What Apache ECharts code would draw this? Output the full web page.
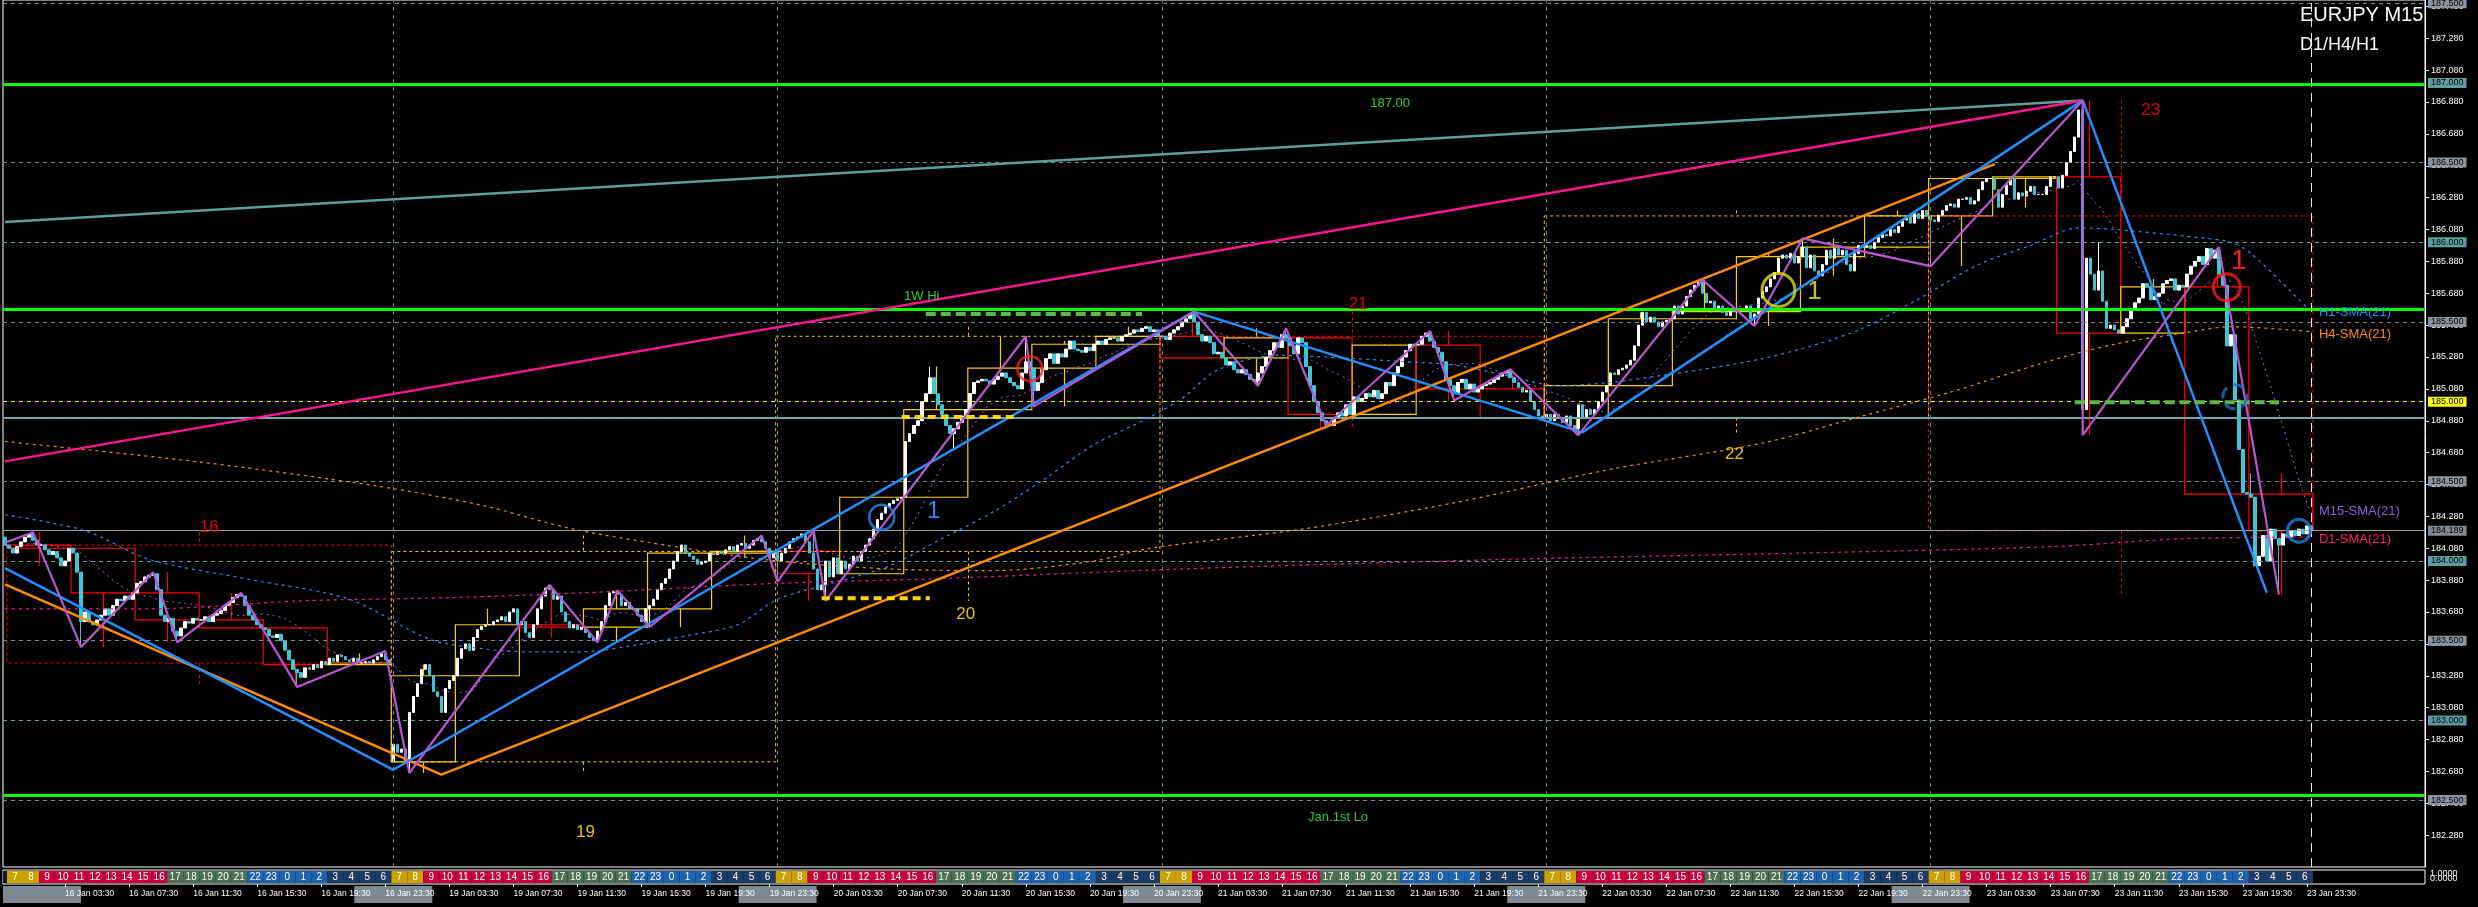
<!DOCTYPE html>
<html>
<head>
<meta charset="utf-8">
<title>EURJPY M15</title>
<script src="https://cdn.jsdelivr.net/npm/echarts@6.0.0/dist/echarts.min.js"></script>
<style>
html,body{margin:0;padding:0;background:#000;overflow:hidden;}
#chart{width:2478px;height:907px;}
</style>
</head>
<body>
<div id="chart"></div>
<script>
// ================= DATA =================
const tradingDays = ['16 Jan','19 Jan','20 Jan','21 Jan','22 Jan','23 Jan'];
const firstBarLabel = '15 Jan 2026 23:45';
const firstOpen = 184.15;
const firstClose = 184.10;

const close16Jan = [
 184.08,184.05,184.09,184.12, 184.15,184.17,184.13,184.10, 184.10,184.07,184.04,184.06, 184.02,183.97,184.00,184.08,
 184.05,183.93,183.62,183.68, 183.62,183.60,183.63,183.66, 183.70,183.66,183.72,183.76, 183.75,183.78,183.76,183.80,
 183.86,183.87,183.90,183.91, 183.92,183.82,183.66,183.62, 183.64,183.56,183.53,183.58, 183.62,183.61,183.64,183.63,
 183.63,183.65,183.62,183.66, 183.67,183.69,183.72,183.74, 183.77,183.79,183.78,183.72, 183.66,183.63,183.60,183.58,
 183.57,183.53,183.52,183.54, 183.50,183.44,183.38,183.32, 183.30,183.27,183.33,183.32, 183.35,183.33,183.37,183.35,
 183.39,183.37,183.41,183.40, 183.38,183.37,183.39,183.36, 183.36,183.37,183.36,183.38, 183.40,183.42,183.38,183.36
];
const close19Jan = [
 182.85,182.80,182.82,182.74, 183.05,183.15,183.23,183.32, 183.35,183.28,183.18,183.15, 183.05,183.20,183.25,183.28,
 183.39,183.45,183.48,183.44, 183.52,183.57,183.59,183.60, 183.60,183.62,183.63,183.65, 183.62,183.68,183.70,183.60,
 183.62,183.55,183.52,183.60, 183.70,183.78,183.83,183.82, 183.76,183.78,183.68,183.62, 183.58,183.60,183.57,183.585,
 183.55,183.52,183.50,183.56, 183.62,183.72,183.80,183.81, 183.79,183.72,183.74,183.70, 183.70,183.66,183.62,183.70,
 183.72,183.76,183.82,183.86, 183.89,183.95,184.00,184.06, 184.10,184.05,184.03,184.01, 183.98,183.99,184.00,184.05,
 184.04,184.06,184.05,184.07, 184.09,184.06,184.10,184.11, 184.08,184.10,184.13,184.14, 184.12,184.08,184.02,184.06
];
const close20Jan = [
 184.00,184.05,184.08,184.12, 184.14,184.15,184.17,184.12, 184.05,183.95,183.82,183.85, 184.00,183.90,184.02,183.92,
 184.00,183.95,183.98,184.03, 184.00,184.06,184.10,184.14, 184.20,184.26,184.30,184.34, 184.36,184.38,184.39,184.40,
 184.75,184.80,184.85,184.88, 185.00,185.05,185.15,185.05, 184.98,184.92,184.85,184.80, 184.83,184.87,184.91,184.95,
 185.05,185.12,185.13,185.14, 185.13,185.11,185.14,185.16, 185.18,185.15,185.12,185.10, 185.08,185.18,185.25,185.21,
 185.07,185.12,185.20,185.27, 185.30,185.24,185.30,185.28, 185.33,185.38,185.33,185.32, 185.31,185.34,185.32,185.36,
 185.38,185.36,185.39,185.40, 185.40,185.38,185.41,185.42, 185.43,185.45,185.44,185.46, 185.47,185.44,185.45,185.41
];
const close21Jan = [
 185.41,185.39,185.43,185.45, 185.47,185.50,185.52,185.55, 185.50,185.42,185.38,185.41, 185.37,185.30,185.31,185.275,
 185.23,185.25,185.20,185.18, 185.20,185.17,185.14,185.13, 185.18,185.22,185.28,185.32, 185.37,185.34,185.42,185.40,
 185.35,185.30,185.40,185.37, 185.22,185.10,185.00,184.93, 184.88,184.86,184.85,184.90, 184.93,184.91,184.98,184.92,
 185.03,185.00,185.02,185.05, 185.03,185.07,185.02,185.05, 185.12,185.10,185.18,185.22, 185.28,185.32,185.36,185.355,
 185.36,185.41,185.43,185.38, 185.34,185.31,185.25,185.14, 185.10,185.05,185.12,185.14, 185.08,185.11,185.06,185.08,
 185.10,185.11,185.12,185.14, 185.16,185.18,185.19,185.15, 185.12,185.09,185.06,185.07, 185.00,184.95,184.91,184.90
];
const close22Jan = [
 184.92,184.88,184.92,184.90, 184.87,184.91,184.85,184.83, 184.98,184.90,184.95,184.92, 184.95,185.00,185.06,185.10,
 185.18,185.17,185.20,185.21, 185.23,185.26,185.35,185.48, 185.56,185.50,185.53,185.50, 185.47,185.50,185.51,185.52,
 185.60,185.55,185.60,185.66, 185.70,185.73,185.75,185.68, 185.62,185.63,185.58,185.60, 185.56,185.54,185.57,185.565,
 185.57,185.58,185.60,185.52, 185.55,185.65,185.69,185.72, 185.77,185.81,185.90,185.92, 185.90,185.93,185.87,185.91,
 185.97,185.84,185.92,185.82, 185.79,185.86,185.95,185.90, 185.96,185.92,185.95,185.86, 185.82,185.93,185.98,185.97,
 185.98,185.96,186.00,186.03, 186.05,186.04,186.08,186.06, 186.10,186.14,186.16,186.12, 186.18,186.15,186.20,186.165
];
const close23Jan = [
 186.14,186.13,186.17,186.20, 186.23,186.24,186.22,186.27, 186.27,186.28,186.24,186.26, 186.33,186.38,186.40,186.40,
 186.33,186.22,186.30,186.36, 186.40,186.27,186.31,186.29, 186.32,186.35,186.30,186.30, 186.30,186.35,186.41,186.41,
 186.34,186.42,186.50,186.57, 186.66,186.83,184.95,185.90, 185.80,185.70,185.82,185.63, 185.46,185.48,185.45,185.43,
 185.47,185.52,185.58,185.62, 185.65,185.74,185.72,185.64, 185.66,185.68,185.74,185.76, 185.77,185.70,185.73,185.72,
 185.80,185.85,185.88,185.91, 185.86,185.96,185.90,185.95, 185.80,185.73,185.35,185.42, 185.01,184.70,184.43,184.42,
 184.40,183.97,184.03,184.16, 184.00,184.20,184.14,184.10, 184.17,184.15,184.19,184.16, 184.20,184.17,184.22,184.19
];
// bar index (0 = 15 Jan 23:45) -> price
const openOverride = [[97, 182.74]];
const wickHigh = [[7,184.18],[37,183.93],[59,183.80],[136,183.85],[153,183.815],[189,184.16],[202,184.19],[231,185.22],
  [255,185.41],[297,185.565],[320,185.46],[356,185.443],[376,185.203],[424,185.765],[449,186.024],[519,186.89],
  [523,186.00],[553,185.97],[561,184.55]];
const wickLow = [[19,183.46],[43,183.49],[73,183.21],[101,182.67],[148,183.49],[161,183.585],[193,183.87],[205,183.75],
  [237,184.70],[257,184.97],[313,185.10],[330,184.83],[362,185.007],[393,184.79],[437,185.475],[481,185.85],
  [519,184.79],[568,183.79]];
const futureSlots = 28;

// trend lines  [bar, price]
const tealLine   = [[0,186.127],[519,186.89]];
const pinkLine   = [[0,184.625],[519,186.89]];
const orangeLine = [[0,183.853],[109,182.66],[497,186.49]];
const blueLine   = [[0,183.955],[97,182.69],[297,185.565],[394,184.807],[519,186.89],[565,183.80]];
const zigzag = [[0,184.115],[7,184.18],[19,183.46],[37,183.93],[43,183.49],[59,183.80],[73,183.21],[95,183.435],
  [101,182.67],[136,183.85],[148,183.49],[153,183.815],[161,183.585],[189,184.16],[193,183.87],[202,184.19],
  [205,183.75],[255,185.41],[257,184.97],[297,185.565],[313,185.10],[320,185.46],[330,184.85],[356,185.443],
  [362,185.007],[376,185.203],[393,184.79],[424,185.765],[437,185.475],[449,186.024],[481,185.85],[519,186.89],
  [519,184.79],[553,185.97],[568,183.79]];

// moving averages from higher time frames
const h1SmaBar = [0,20,36,61,86,106,119,131,144,157,170,183,193,208,221,234,247,260,272,285,294,303,318,337,350,362,375,388,401,414,426,439,452,464,477,493,506,518,527,544,556,561,575];
const h1SmaVal = [184.29,184.19,184.01,183.885,183.76,183.51,183.45,183.43,183.43,183.47,183.53,183.60,183.76,183.87,183.97,184.14,184.31,184.52,184.73,184.89,185.02,185.20,185.29,185.27,185.25,185.23,185.165,185.10,185.12,185.165,185.21,185.27,185.355,185.46,185.63,185.86,185.98,186.09,186.08,186.04,186.00,185.93,185.59];
const h4SmaBar = [0,49,93,119,142,170,193,221,247,272,286,324,362,401,439,464,486,510,527,544,556,576];
const h4SmaVal = [184.75,184.62,184.47,184.35,184.20,184.08,184.00,183.95,183.94,184.00,184.08,184.20,184.365,184.575,184.74,184.91,185.06,185.25,185.36,185.43,185.47,185.44];
const d1SmaBar = [0,36,74,111,144,193,234,294,374,449,511,544,576];
const d1SmaVal = [183.70,183.70,183.75,183.77,183.80,183.86,183.89,183.95,184.01,184.05,184.09,184.14,184.15];

// horizontal levels
const roundLevels = [187.5,187.0,186.5,186.0,185.5,185.0,184.5,184.0,183.5,183.0,182.5];
const greenLevels = [186.99,185.58,182.532];
const tealLevel = 184.90;
const currentPrice = 184.189;
// short marker segments [fromBar, toBar, price]
const yellowSegs = [[204,231,183.767],[224,253,184.904]];
const greenSegs  = [[230,284,185.55],[517,568,184.996]];

// circles
const ringBar   = [219, 256, 443, 555, 557, 573];
const ringPrice = [184.275, 185.207, 185.70, 185.717, 185.03, 184.19];

// text notes
const noteText  = ['1W Hi','187.00','Jan.1st Lo','16','19','20','21','22','23','1','1','1','H1-SMA(21)','H4-SMA(21)','M15-SMA(21)','D1-SMA(21)'];
const noteBar   = [229, 346, 333, 51, 145, 240, 338, 432, 536, 232, 452, 558, 578, 578, 578, 578];
const notePrice = [185.66, 186.87, 182.39, 184.21, 182.30, 183.665, 185.61, 184.67, 186.83, 184.31, 185.69, 185.88, 185.56, 185.42, 184.31, 184.136];

const labelTimes = ['03:30','07:30','11:30','15:30','19:30','23:30'];

// ================= BUILD =================
const FONT = 'Liberation Sans, Arial, sans-serif';
const close = [firstClose].concat(close16Jan, close19Jan, close20Jan, close21Jan, close22Jan, close23Jan);
const nBars = close.length;
const pad = n => (n < 10 ? '0' : '') + n;
const cats = [firstBarLabel];
tradingDays.forEach(d => { for (let h = 0; h < 24; h++) for (let m = 0; m < 60; m += 15) cats.push(d + ' ' + pad(h) + ':' + pad(m)); });
for (let f = 0; f < futureSlots; f++) cats.push('~' + f);

const ovOpen = {}; openOverride.forEach(a => ovOpen[a[0]] = a[1]);
const wh = {}; wickHigh.forEach(a => wh[a[0]] = a[1]);
const wl = {}; wickLow.forEach(a => wl[a[0]] = a[1]);
const ohlc = close.map((c, k) => {
  let o = k === 0 ? firstOpen : close[k - 1];
  if (ovOpen[k] !== undefined) o = ovOpen[k];
  let hi = Math.max(o, c), lo = Math.min(o, c);
  if (wh[k] !== undefined) hi = Math.max(hi, wh[k]);
  if (wl[k] !== undefined) lo = Math.min(lo, wl[k]);
  return [o, c, lo, hi];
});
function aggregate(s, e) {
  let hi = -Infinity, lo = Infinity;
  for (let k = s; k <= e; k++) { hi = Math.max(hi, ohlc[k][3]); lo = Math.min(lo, ohlc[k][2]); }
  return [s, e, ohlc[s][0], ohlc[e][1], hi, lo];
}
const h4Boxes = [];
for (let s = 1; s < nBars; s += 16) h4Boxes.push(aggregate(s, Math.min(s + 15, nBars - 1)));
const dayStart = tradingDays.map((d, i) => 1 + i * 96);
const d1Boxes = dayStart.map(s => aggregate(s, s + 95));

// M15 SMA(21) from the closes
const sma15 = close.map((c, k) => { const s = Math.max(0, k - 20); let t = 0; for (let j = s; j <= k; j++) t += close[j]; return [k, +(t / (k - s + 1)).toFixed(4)]; });

// hour band cells (JST = server + 7)
const hourCells = [[0, 0, -1]];
tradingDays.forEach((d, di) => { for (let h = 0; h < 24; h++) { const s = 1 + di * 96 + h * 4; hourCells.push([s, s + 3, (h + 7) % 24]); } });
function hourColor(h) {
  if (h < 0) return '#0e1a2c';
  if (h === 7 || h === 8) return '#c9a200';
  if (h >= 9 && h <= 16) return '#c8003c';
  if (h >= 17 && h <= 21) return '#4b7150';
  if (h >= 22 || h <= 2) return '#1f63b0';
  return '#1e3b66';
}

const BULL = '#ffcc00', BEAR = '#ff0000';
function boxRenderer(dashed, lw) {
  return function (params, api) {
    const s = api.value(0), e = api.value(1), o = api.value(2), c = api.value(3), hi = api.value(4), lo = api.value(5);
    const bw = api.size([1, 0])[0];
    const x0 = api.coord([s, o])[0] - bw / 2, x1 = api.coord([e, o])[0] + bw / 2;
    const yo = api.coord([s, o])[1], yc = api.coord([s, c])[1];
    const yh = api.coord([s, hi])[1], yl = api.coord([s, lo])[1];
    const col = c >= o ? BULL : BEAR;
    const xm = Math.round((x0 + x1) / 2) + 0.5;
    const top = Math.min(yo, yc), bot = Math.max(yo, yc);
    const st = { stroke: col, lineWidth: lw, fill: null, lineDash: dashed ? [3, 3] : null };
    return { type: 'group', children: [
      { type: 'rect', shape: { x: x0, y: top, width: x1 - x0, height: Math.max(bot - top, 1) }, style: st },
      { type: 'line', shape: { x1: xm, y1: yh, x2: xm, y2: top }, style: st },
      { type: 'line', shape: { x1: xm, y1: bot, x2: xm, y2: yl }, style: st }
    ] };
  };
}

// note styles
const noteStyle = [
  { c: '#2ecc2e', s: 13 }, { c: '#2ecc2e', s: 13 }, { c: '#2ecc2e', s: 13 },
  { c: '#e00000', s: 17 }, { c: '#e6c000', s: 17 }, { c: '#e6c000', s: 17 }, { c: '#e00000', s: 17 }, { c: '#e6c000', s: 17 }, { c: '#e00000', s: 17 },
  { c: '#1e90ff', s: 24 }, { c: '#c4c412', s: 26 }, { c: '#ff1a1a', s: 28 },
  { c: '#1e90ff', s: 13, a: 'left' }, { c: '#ff8c00', s: 13, a: 'left' }, { c: '#9a5cd6', s: 13, a: 'left' }, { c: '#ff1a6e', s: 13, a: 'left' }
];
const ringStyle = [
  { c: '#1e90ff', d: 25, w: 2.5 }, { c: '#ff2020', d: 25, w: 2.5 }, { c: '#e0e000', d: 33, w: 3 },
  { c: '#ff1a1a', d: 27, w: 3 }, { c: '#1a70d0', d: 24, w: 3, t: 'dashed' }, { c: '#1e80e0', d: 23, w: 3 }
];

// horizontal mark lines
const mlData = [];
roundLevels.forEach(v => {
  const isInt = Math.abs(v - Math.round(v)) < 1e-9;
  const yellow = Math.abs(v - 185.0) < 1e-9;
  mlData.push({
    yAxis: v,
    lineStyle: { color: yellow ? '#ffff00' : (isInt ? '#6f9fa8' : '#7a8c9c'), type: [4, 4], width: 1 },
    label: { show: true, position: 'end', distance: 3, formatter: v.toFixed(3), color: '#000', fontSize: 9, fontFamily: FONT,
      backgroundColor: yellow ? '#ffff00' : (isInt ? '#5f9ea0' : '#8a96a2'), padding: [1, 3, 0, 3] }
  });
});
greenLevels.forEach(v => mlData.push({ yAxis: v, lineStyle: { color: '#00ff00', type: 'solid', width: 3 }, label: { show: false } }));
mlData.push({ yAxis: tealLevel, lineStyle: { color: '#70aaae', type: 'solid', width: 2 }, label: { show: false } });
mlData.push({ yAxis: currentPrice, lineStyle: { color: '#9aa0a6', type: 'solid', width: 1 },
  label: { show: true, position: 'end', distance: 3, formatter: currentPrice.toFixed(3), color: '#000', fontSize: 9, fontFamily: FONT, backgroundColor: '#7f8b96', padding: [1, 3, 0, 3] } });
dayStart.slice(1).forEach(k => mlData.push({ xAxis: k, lineStyle: { color: '#6f7f8f', type: [4, 4], width: 1 }, label: { show: false } }));
mlData.push({ xAxis: nBars - 1, lineStyle: { color: '#e8e8e8', type: [9, 6], width: 1 }, label: { show: false } });

const toPairs = (bars, vals) => bars.map((b, i) => [b, vals[i]]);
const lineSeries = (data, color, width, extra) => Object.assign({
  type: 'line', xAxisIndex: 0, yAxisIndex: 0, data: data, symbol: 'none', silent: true, animation: false,
  lineStyle: { color: color, width: width }, z: 6
}, extra || {});

const series = [
  // H4 candle outlines
  { type: 'custom', xAxisIndex: 0, yAxisIndex: 0, data: h4Boxes, renderItem: boxRenderer(false, 1.2), clip: true, silent: true, z: 2, animation: false },
  // D1 candle outlines
  { type: 'custom', xAxisIndex: 0, yAxisIndex: 0, data: d1Boxes, renderItem: boxRenderer(true, 1), clip: true, silent: true, z: 2, animation: false },
  // candles + levels
  { type: 'candlestick', xAxisIndex: 0, yAxisIndex: 0, data: ohlc, barWidth: 3, large: false, silent: true, animation: false, z: 4,
    itemStyle: { color: '#ffffff', color0: '#3cc6d8', borderColor: '#ffffff', borderColor0: '#3cc6d8', borderWidth: 1 },
    markLine: { symbol: ['none', 'none'], silent: true, animation: false, data: mlData } },
  // moving averages
  lineSeries(sma15, '#b45fe0', 1, { lineStyle: { color: '#b45fe0', width: 1, type: [2, 4] }, z: 5 }),
  lineSeries(toPairs(h1SmaBar, h1SmaVal), '#1e90ff', 1, { smooth: 0.3, lineStyle: { color: '#1e90ff', width: 1.2, type: [3, 4] }, z: 5 }),
  lineSeries(toPairs(h4SmaBar, h4SmaVal), '#ff8c00', 1, { smooth: 0.3, lineStyle: { color: '#ff8c00', width: 1.2, type: [3, 4] }, z: 5 }),
  lineSeries(toPairs(d1SmaBar, d1SmaVal), '#ff1493', 1, { smooth: 0.3, lineStyle: { color: '#ff1493', width: 1.2, type: [3, 4] }, z: 5 }),
  // trend lines
  lineSeries(tealLine, '#5f9ea0', 2.5),
  lineSeries(pinkLine, '#ff1493', 2.5),
  lineSeries(orangeLine, '#ff8c00', 2.5),
  lineSeries(blueLine, '#1e90ff', 2.5),
  lineSeries(zigzag, '#ba55d3', 2.2, { z: 7 }),
];
yellowSegs.forEach(s => series.push(lineSeries([[s[0], s[2]], [s[1], s[2]]], '#ffd700', 4, { lineStyle: { color: '#ffd700', width: 4, type: [8, 5] }, z: 7 })));
greenSegs.forEach(s => series.push(lineSeries([[s[0], s[2]], [s[1], s[2]]], '#5cb84a', 4, { lineStyle: { color: '#5cb84a', width: 4, type: [10, 5] }, z: 7 })));
// rings
series.push({ type: 'scatter', xAxisIndex: 0, yAxisIndex: 0, silent: true, animation: false, z: 9,
  data: ringBar.map((b, i) => ({ value: [b, ringPrice[i]], symbol: 'circle', symbolSize: ringStyle[i].d,
    itemStyle: { color: 'rgba(0,0,0,0)', borderColor: ringStyle[i].c, borderWidth: ringStyle[i].w, borderType: ringStyle[i].t || 'solid' } })) });
// notes
series.push({ type: 'custom', xAxisIndex: 0, yAxisIndex: 0, silent: true, animation: false, z: 10, clip: false,
  data: noteBar.map((b, i) => [b, notePrice[i]]),
  renderItem: function (params, api) {
    const i = params.dataIndex, st = noteStyle[i];
    const p = api.coord([api.value(0), api.value(1)]);
    return { type: 'text', x: p[0], y: p[1], style: { text: noteText[i], fill: st.c, font: st.s + 'px ' + FONT, align: st.a || 'center', verticalAlign: 'middle' } };
  } });
// hour band
series.push({ type: 'custom', xAxisIndex: 1, yAxisIndex: 2, silent: true, animation: false, z: 3, clip: false,
  data: hourCells,
  renderItem: function (params, api) {
    const s = api.value(0), e = api.value(1), h = api.value(2);
    const bw = api.size([1, 0])[0];
    const p0 = api.coord([s, 1]), p1 = api.coord([e, 0]);
    const x0 = p0[0] - bw / 2, x1 = p1[0] + bw / 2;
    const kids = [{ type: 'rect', shape: { x: x0, y: p0[1] + 1, width: x1 - x0, height: p1[1] - p0[1] - 2 }, style: { fill: hourColor(h) } }];
    if (h >= 0) kids.push({ type: 'text', x: (x0 + x1) / 2, y: (p0[1] + p1[1]) / 2 + 0.5, style: { text: String(h), fill: '#ffffff', font: '10px ' + FONT, align: 'center', verticalAlign: 'middle' } });
    return { type: 'group', children: kids };
  } });
// gray date boxes in the time-label row
series.push({ type: 'custom', xAxisIndex: 1, yAxisIndex: 2, silent: true, animation: false, z: 1, clip: false,
  data: [0].concat(dayStart.slice(1)).map(k => [k, 0]),
  renderItem: function (params, api) {
    const k = api.value(0);
    const p = api.coord([k, 0]);
    const bw = api.size([1, 0])[0];
    const x0 = k === 0 ? p[0] - bw / 2 : p[0] - 39;
    return { type: 'rect', shape: { x: x0, y: p[1] + 2, width: 78, height: 17 }, style: { fill: '#7d8993' } };
  } });

const option = {
  backgroundColor: '#000000',
  animation: false,
  textStyle: { fontFamily: FONT },
  grid: [
    { left: 3, right: 53, top: 0, height: 867, show: true, borderColor: '#ffffff', borderWidth: 1, backgroundColor: 'transparent' },
    { left: 3, right: 53, top: 870, height: 14, show: true, borderColor: '#ffffff', borderWidth: 1, backgroundColor: 'transparent' }
  ],
  xAxis: [
    { type: 'category', gridIndex: 0, data: cats, boundaryGap: true, show: false },
    { type: 'category', gridIndex: 1, data: cats, boundaryGap: true, z: 10,
      axisLine: { show: false },
      axisTick: { show: true, alignWithLabel: true, length: 3, lineStyle: { color: '#ffffff' },
        interval: function (i) { return i === 0 || (i < nBars && labelTimes.indexOf(cats[i].slice(-5)) >= 0); } },
      axisLabel: { show: true, color: '#ffffff', fontSize: 8.5, align: 'left', margin: 5,
        interval: function (i) { return i === 0 || (i < nBars && labelTimes.indexOf(cats[i].slice(-5)) >= 0); } },
      splitLine: { show: false } }
  ],
  yAxis: [
    { type: 'value', gridIndex: 0, min: 182.08, max: 187.52, show: false, scale: true },
    { type: 'value', gridIndex: 0, position: 'right', min: 0, max: 5.44, interval: 0.2,
      axisLine: { show: true, lineStyle: { color: '#ffffff' } },
      axisTick: { show: true, length: 4, lineStyle: { color: '#ffffff' } },
      axisLabel: { show: true, color: '#ffffff', fontSize: 9, margin: 6, showMinLabel: false, showMaxLabel: false,
        formatter: function (v) { return (v + 182.08).toFixed(3); } },
      splitLine: { show: false } },
    { type: 'value', gridIndex: 1, min: 0, max: 1, show: false }
  ],
  graphic: [
    { type: 'text', left: 2300, top: 5, z: 100, style: { text: 'EURJPY M15', fill: '#ffffff', font: '20px ' + FONT } },
    { type: 'text', left: 2300, top: 36, z: 100, style: { text: 'D1/H4/H1', fill: '#ffffff', font: '18px ' + FONT } },
    { type: 'text', left: 2430, top: 869, z: 100, style: { text: '1.0000', fill: '#ffffff', font: '9px ' + FONT } },
    { type: 'text', left: 2430, top: 874, z: 100, style: { text: '0.0000', fill: '#ffffff', font: '9px ' + FONT } }
  ],
  series: series
};

const chart = echarts.init(document.getElementById('chart'), null, { renderer: 'canvas', width: 2478, height: 907 });
chart.setOption(option);
</script>
</body>
</html>
